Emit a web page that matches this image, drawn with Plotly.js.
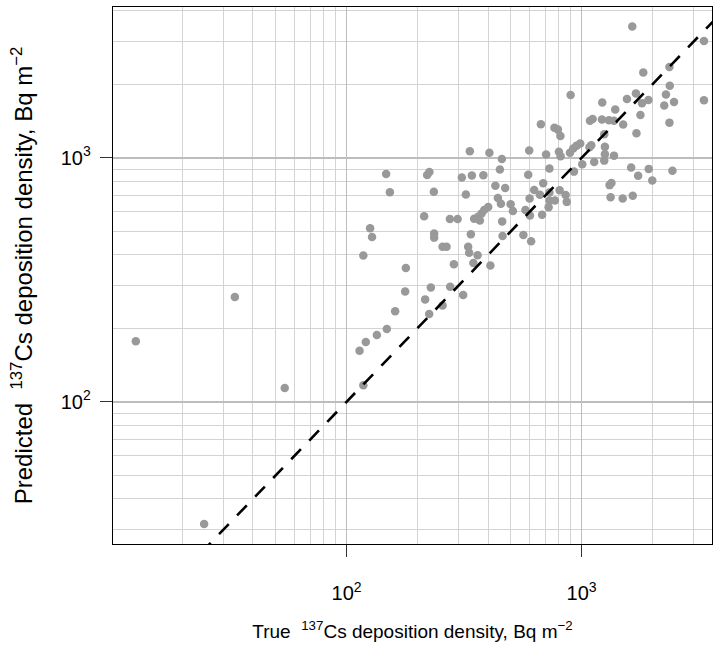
<!DOCTYPE html>
<html>
<head>
<meta charset="utf-8">
<script src="https://cdn.plot.ly/plotly-3.0.1.min.js"></script>
<style>html,body{margin:0;padding:0;background:#fff;}#chart{width:717px;height:650px;}</style>
</head>
<body>
<div id="chart"></div>
<script>
// True 137Cs deposition density (Bq m^-2)
var trueVals = [12.7,33.5,54.6,24.8,113.6,120.8,134.6,148.4,161,177.6,178.8,117.9,147.4,152.9,126,128.4,117.9,
213.9,225.1,220.3,235.2,228.4,216,224.7,256.2,276,313.4,286.2,235.9,235.9,256.2,266.4,275.2,296.8,309.4,321.8,
334.6,341.3,382.1,329.1,332.4,338,361,346.4,349.1,363.1,375.4,385.1,400.6,369.2,405.3,458,449,429.7,473,440.4,
453.6,498.8,510.2,459.3,461.1,409.2,565.2,609.7,576.6,602.6,679,723.7,600.8,628.5,664.6,686.4,729.5,729.5,769.9,
806.2,855.1,864.4,592.7,598.4,706.2,729.5,671,766.1,792.7,812.4,800.6,813.9,898,891.9,921.1,952.1,986.3,927.4,
1006,1099,1131,1085,1114,1220,1307,1373,1502,1224,1390,1248,1256,1256,1248,1373,1624,1930,2434,1739,1997,1339,
1315,1328,1495,1650,1711,1779,2363,1559,1702,1806,1924,2284,2471,2246,3314,1829,2363,2371,1642,3314,1080];
// Predicted 137Cs deposition density (Bq m^-2)
var predVals = [177,269,114,31.6,162,176,188,199,235,283,354,117,858,723,515,474,398,
576,874,850,726,294,263,229,248,296,274,366,490,471,432,432,561,561,831,708,
1065,846,848,432,408,486,399,371,563,574,592,611,629,553,1048,988,895,769,752,684,
649,646,605,549,478,362,483,455,611,580,584,627,681,738,706,786,721,668,668,
736,704,660,852,1072,1032,905,1374,1329,1305,1230,1058,1016,1809,1050,1093,1122,1145,878,
941,1127,962,1420,1444,1436,1427,1420,1370,1686,1578,1248,1109,1035,974,1021,912,901,886,844,807,788,
773,689,682,699,1260,1498,1394,1742,1837,1675,1726,1818,1695,1639,1723,2239,2358,1975,3451,3010,1106];
// 1:1 reference line
var refLine = [1, 10000];
// tick labels
var majorTicks = [100, 1000];
var majorText = ['10<sup>2</sup>', '10<sup>3</sup>'];
var minorTicks = [20,30,40,50,60,70,80,90,200,300,400,500,600,700,800,900,2000,3000,4000,5000,6000,7000,8000,9000];
var xTitle = 'True  <sup>137</sup>Cs deposition density, Bq m<sup>\u22122</sup>';
var yTitle = 'Predicted  <sup>137</sup>Cs deposition density, Bq m<sup>\u22122</sup>';

var FONT = 'Liberation Sans, Arial, Helvetica, sans-serif';

function axis(range, title, titleSize, standoff, labelStandoff) {
  return {
    type: 'log',
    range: range,
    tickmode: 'array',
    tickvals: majorTicks,
    ticktext: majorText,
    ticks: 'outside',
    ticklen: 12,
    tickwidth: 1.2,
    tickcolor: '#333',
    ticklabelstandoff: labelStandoff,
    tickfont: {family: FONT, size: 20, color: '#000'},
    showgrid: true,
    gridcolor: '#bdbdbd',
    gridwidth: 1.6,
    minor: {tickmode: 'array', tickvals: minorTicks, ticks: '', showgrid: true, gridcolor: '#d3d3d3', gridwidth: 1},
    showline: true,
    mirror: true,
    linecolor: '#000',
    linewidth: 1.3,
    zeroline: false,
    automargin: false,
    title: {text: title, font: {family: FONT, size: titleSize, color: '#000'}, standoff: standoff}
  };
}

var traces = [
  {x: trueVals, y: predVals, type: 'scatter', mode: 'markers',
   marker: {color: '#999999', size: 8.5, line: {width: 0}}, hoverinfo: 'x+y'},
  {x: refLine, y: refLine, type: 'scatter', mode: 'lines',
   line: {color: '#000', width: 2.6, dash: '14px,12px'}, hoverinfo: 'skip'}
];

var layout = {
  width: 717, height: 650,
  margin: {l: 113, r: 5, t: 7, b: 106, pad: 0},
  paper_bgcolor: '#fff', plot_bgcolor: '#fff',
  showlegend: false,
  xaxis: axis([1.0068, 3.5545], xTitle, 19, 21, 19),
  yaxis: axis([1.4175, 3.6181], yTitle, 24, 21, 5),
  font: {family: FONT}
};

Plotly.newPlot('chart', traces, layout, {displayModeBar: false, staticPlot: true});
</script>
</body>
</html>
